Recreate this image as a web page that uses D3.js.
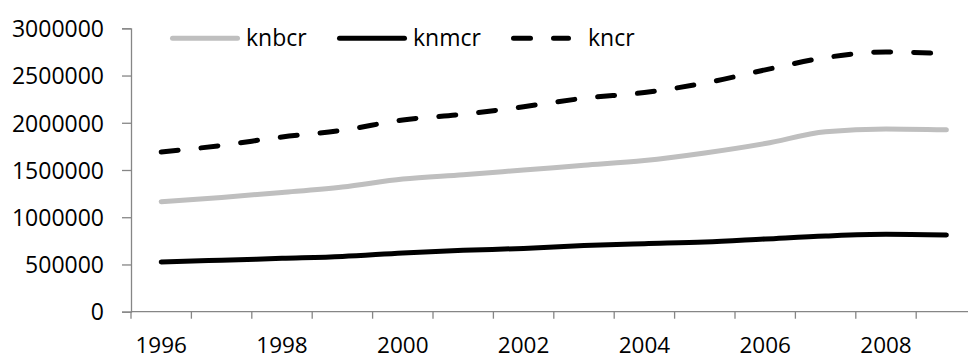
<!DOCTYPE html>
<html>
<head>
<meta charset="utf-8">
<script src="https://cdn.jsdelivr.net/npm/d3@7"></script>
<style>
  body { margin: 0; background: #fff; }
  text { font-family: "Open Sans", sans-serif; }
</style>
</head>
<body>
<div id="svgcontainer"></div>
<script>
const years = [1996, 1997, 1998, 1999, 2000, 2001, 2002, 2003, 2004, 2005, 2006, 2007, 2008, 2009];
const knbcr = [1165000, 1210000, 1262000, 1320000, 1405000, 1450000, 1500000, 1550000, 1600000, 1680000, 1780000, 1905000, 1935000, 1925000];
const knmcr = [526000, 545000, 565000, 585000, 622000, 650000, 670000, 700000, 720000, 738000, 770000, 802000, 820000, 812000];
const kncr = [1690000, 1760000, 1850000, 1920000, 2030000, 2090000, 2170000, 2260000, 2320000, 2420000, 2560000, 2690000, 2750000, 2730000];
const yTicks = [0, 500000, 1000000, 1500000, 2000000, 2500000, 3000000];
const xLabels = [1996, 1998, 2000, 2002, 2004, 2006, 2008];
const seriesNames = ["knbcr", "knmcr", "kncr"];

const W = 968, H = 356;
const plotLeft = 131, plotRight = 976.6, plotTop = 28.3, plotBottom = 311.7;
const axisColor = "#868686";

var svg = d3.select("#svgcontainer")
    .append("svg")
    .attr("width", W)
    .attr("height", H)

let x = d3.scaleBand().domain(years).range([plotLeft, plotRight]).paddingInner(0).paddingOuter(0);
let y = d3.scaleLinear().domain([0, 3000000]).range([plotBottom, plotTop]);
let cx = d => x(d) + x.bandwidth() / 2;

// y axis
let yAxis = svg.append('g')
    .attr('transform', `translate(${plotLeft}, 0)`)
    .call(d3.axisLeft(y).tickValues(yTicks).tickSize(9).tickPadding(18).tickFormat(d3.format("d")))
yAxis.select('.domain').attr('stroke', axisColor).attr('stroke-width', 1.3)
yAxis.selectAll('.tick line').attr('stroke', axisColor).attr('stroke-width', 1.3)
yAxis.selectAll('.tick text').attr('font-size', 23).attr('fill', '#000').attr('dy', '0.36em')
    .attr('font-family', '"Open Sans", sans-serif')

// x axis: line, ticks at category boundaries, labels every other year
let xg = svg.append('g')
xg.append('line').attr('x1', plotLeft).attr('x2', W).attr('y1', plotBottom).attr('y2', plotBottom)
    .attr('stroke', axisColor).attr('stroke-width', 1.3)
let bounds = years.map(d => x(d)).concat([plotRight])
xg.selectAll('.xt').data(bounds).join('line')
    .attr('x1', d => d).attr('x2', d => d)
    .attr('y1', plotBottom).attr('y2', plotBottom + 7)
    .attr('stroke', axisColor).attr('stroke-width', 1.3)
xg.selectAll('.xl').data(xLabels).join('text')
    .attr('x', d => cx(d)).attr('y', 352.5)
    .attr('text-anchor', 'middle').attr('font-size', 22.5).attr('fill', '#000')
    .text(d => d)

// lines
let line = d3.line().x((d, i) => cx(years[i])).y(d => y(d)).curve(d3.curveMonotoneX);
let styles = [
    { data: knbcr, color: '#BFBFBF', dash: null },
    { data: knmcr, color: '#000000', dash: null },
    { data: kncr, color: '#000000', dash: '17,23' }
];
let lg = svg.append('g').attr('fill', 'none').attr('stroke-width', 5).attr('stroke-linecap', 'round')
styles.forEach(s => {
    let p = lg.append('path').attr('d', line(s.data)).attr('stroke', s.color)
    if (s.dash) p.attr('stroke-dasharray', s.dash)
})

// legend
let legendPos = [
    { x1: 172.5, x2: 237.5, tx: 246 },
    { x1: 339.5, x2: 404.5, tx: 413 },
    { x1: 513.5, x2: 568.5, tx: 588 }
];
let leg = svg.append('g')
seriesNames.forEach((name, i) => {
    let s = styles[i], lp = legendPos[i];
    let l = leg.append('line').attr('x1', lp.x1).attr('x2', lp.x2).attr('y1', 38.3).attr('y2', 38.3)
        .attr('stroke', s.color).attr('stroke-width', 5).attr('stroke-linecap', 'round')
    if (s.dash) l.attr('stroke-dasharray', s.dash)
    leg.append('text').attr('x', lp.tx).attr('y', 45.5).attr('font-size', 23).attr('fill', '#000').text(name)
})
</script>
</body>
</html>
